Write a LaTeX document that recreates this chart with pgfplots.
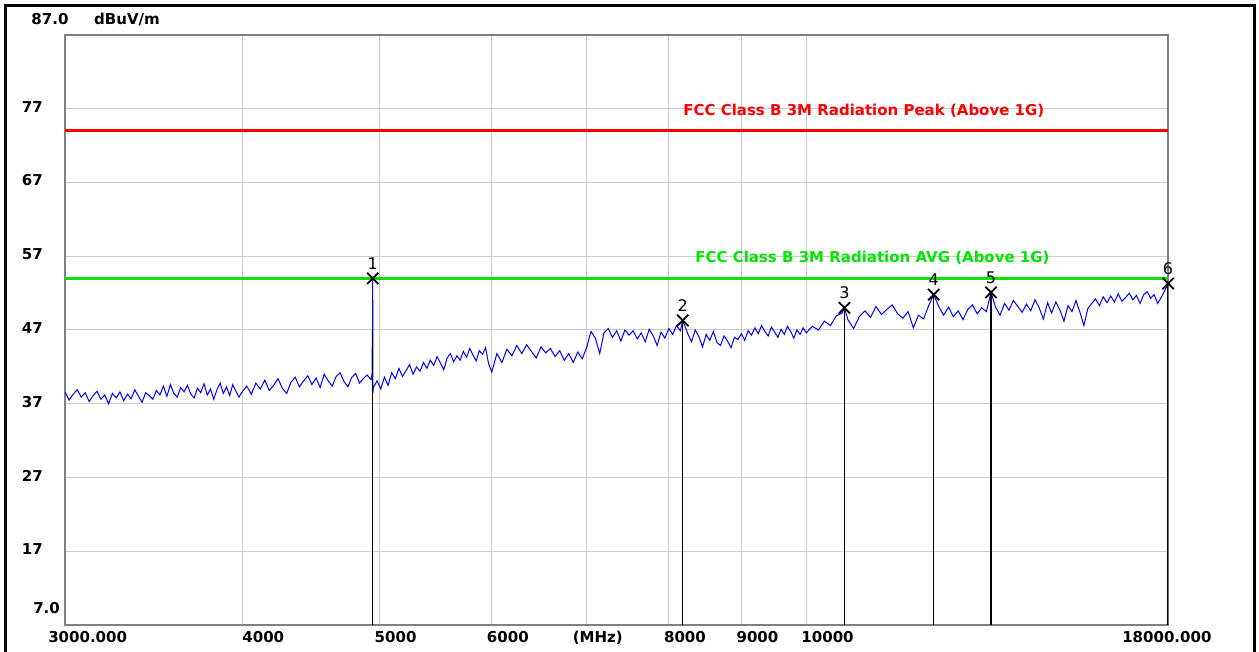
\documentclass[border=0pt]{standalone}
\usepackage{pgfplots}
\usepackage{pgfplotstable}
\pgfplotsset{compat=1.18}
\usepackage{fontspec}
\setmainfont{DejaVu Sans}
\definecolor{tracecol}{RGB}{0,0,255}
\definecolor{limred}{RGB}{255,0,0}
\definecolor{limgreen}{RGB}{0,230,0}
\definecolor{gridcol}{RGB}{204,204,204}
\definecolor{framecol}{RGB}{128,128,128}
\newcommand{\tickfont}{\fontsize{15}{17}\selectfont\bfseries}
\newcommand{\limfont}{\fontsize{15}{17}\selectfont\bfseries}

\pgfplotstableread{
x y
3000 38.6
3020 37.5
3040 38.3
3060 38.9
3080 37.9
3100 38.5
3120 37.3
3140 38.1
3160 38.7
3180 37.6
3200 38.2
3220 37.0
3240 38.4
3260 37.8
3280 38.6
3300 37.4
3320 38.3
3340 37.7
3360 38.9
3380 38.0
3400 37.2
3420 38.5
3440 38.1
3460 37.6
3480 38.8
3500 38.2
3520 39.4
3540 38.0
3560 39.6
3580 38.4
3600 37.9
3620 39.2
3640 38.6
3660 39.5
3680 38.3
3700 37.8
3720 39.1
3740 38.5
3760 39.7
3780 38.2
3800 39.0
3820 37.6
3840 38.9
3860 39.8
3880 38.4
3900 39.3
3920 38.1
3940 39.6
3960 38.7
3980 37.9
4000 38.6
4030 39.4
4060 38.3
4090 39.8
4120 39.0
4150 40.2
4180 38.8
4210 39.5
4240 40.4
4270 39.1
4300 38.4
4330 39.9
4360 40.6
4390 39.3
4420 40.1
4450 40.8
4480 39.6
4510 40.5
4540 39.2
4570 41.0
4600 40.1
4630 39.4
4660 40.7
4690 41.2
4720 40.0
4750 39.3
4780 40.6
4810 41.1
4840 39.8
4870 40.4
4900 40.9
4930 40.3
4940 41.0
4942 47.0
4943 38.6
4944 46.8
4945 54.0
4946 38.4
4950 39.2
4980 40.1
5010 39.0
5040 40.6
5070 39.5
5100 41.2
5130 40.4
5160 41.8
5190 40.7
5220 41.5
5250 42.3
5280 41.0
5310 42.0
5340 41.4
5370 42.6
5400 41.8
5430 42.9
5460 42.2
5490 43.4
5520 42.5
5550 41.6
5580 43.2
5610 43.8
5640 42.7
5670 43.5
5700 42.9
5730 44.1
5760 43.3
5790 44.5
5820 43.6
5850 42.8
5880 44.2
5910 43.7
5940 44.6
5970 42.4
6000 41.3
6050 43.8
6100 42.6
6150 44.4
6200 43.5
6250 44.9
6300 43.8
6350 45.0
6400 44.1
6450 43.2
6500 44.7
6550 43.9
6600 44.5
6650 43.4
6700 44.2
6750 42.9
6800 43.8
6850 42.6
6900 44.0
6950 43.1
7000 44.6
7050 46.8
7100 45.9
7150 43.8
7200 46.6
7250 47.2
7300 46.0
7350 46.9
7400 45.5
7450 47.0
7500 46.3
7550 46.9
7600 45.8
7650 46.6
7700 45.4
7750 47.1
7800 46.2
7850 44.9
7900 46.7
7950 45.9
8000 47.2
8050 46.4
8100 47.6
8150 46.9
8183 48.3
8200 47.8
8250 46.5
8300 45.4
8350 47.0
8400 46.1
8450 44.7
8500 46.4
8550 45.6
8600 46.8
8650 45.3
8700 44.9
8750 46.2
8800 45.5
8850 44.6
8900 46.0
8950 45.7
9000 46.5
9050 45.6
9100 46.9
9150 46.3
9200 47.3
9250 46.5
9300 47.6
9350 46.8
9400 46.2
9450 47.4
9500 46.7
9550 46.0
9600 47.1
9650 46.4
9700 47.5
9750 46.8
9800 45.9
9850 47.0
9900 46.4
9950 47.3
10000 46.6
10100 47.5
10200 47.0
10300 48.2
10400 47.6
10500 48.9
10600 49.3
10640 50.0
10700 48.4
10800 47.2
10900 48.8
11000 49.6
11100 48.7
11200 50.2
11300 49.1
11400 49.8
11500 50.4
11600 49.2
11700 48.6
11800 49.5
11900 47.3
12000 49.0
12100 48.5
12200 50.3
12300 51.8
12400 50.2
12500 49.0
12600 50.1
12700 48.8
12800 49.6
12900 48.4
13000 49.8
13100 50.4
13200 49.2
13300 50.0
13400 49.5
13500 52.1
13600 50.1
13700 49.0
13800 50.6
13900 49.7
14000 51.0
14100 50.2
14200 49.4
14300 50.5
14400 49.6
14500 51.1
14600 50.0
14700 48.5
14800 50.7
14900 49.3
15000 50.8
15100 49.7
15200 48.2
15300 50.3
15400 49.5
15500 51.0
15600 49.4
15700 47.6
15800 49.9
15900 50.6
16000 51.2
16100 50.3
16200 51.5
16300 50.7
16400 51.6
16500 50.8
16600 51.9
16700 50.9
16800 51.4
16900 52.0
17000 51.1
17100 51.7
17200 50.6
17300 51.8
17400 52.2
17500 51.3
17600 51.8
17700 50.6
17800 51.4
17900 52.3
18000 53.3
}\trace

\pgfplotstableread{
x y lab
4945 54.0 1
8183 48.3 2
10640 50.0 3
12300 51.8 4
13500 52.1 5
18000 53.3 6
}\markers

\pgfplotstableread{
x y
4945 47.0
8183 48.3
10640 50.0
12300 51.8
13500 52.1
18000 53.3
}\markerlines

\begin{document}
\begin{tikzpicture}[x=1pt,y=1pt]
\useasboundingbox (0,0) rectangle (1259,652);
\fill[white] (0,0) rectangle (1259,652);
\draw[black, line width=2.5pt] (5.5,-2) -- (5.5,646.5) -- (1254.5,646.5) -- (1254.5,-2);
\begin{axis}[
  at={(65pt,27pt)}, anchor=south west,
  scale only axis, width=1103pt, height=590pt,
  xmode=log, xmin=3000, xmax=18000,
  ymin=7, ymax=87,
  xtick={3000,4000,5000,6000,7000,8000,9000,10000,18000},
  xticklabels={\hspace*{-12pt}3000.000,\hspace*{5pt}4000,5000,6000,\hspace*{-9pt}(MHz),8000,9000,10000,\hspace*{-41pt}18000.000},
  xticklabel style={font=\tickfont, anchor=north west, inner sep=0pt, xshift=-5pt, yshift=-6pt},
  ytick={17,27,37,47,57,67,77},
  yticklabels={17,27,37,47,57,67,77},
  yticklabel style={font=\tickfont, anchor=east, inner sep=0pt, xshift=-22pt, yshift=2pt},
  extra y ticks={7},
  extra y tick labels={7.0},
  extra y tick style={yticklabel style={xshift=17pt, yshift=15pt}, grid=none},
  major tick length=0pt,
  grid=major,
  major grid style={gridcol, line width=1pt},
  axis line style={framecol, line width=2pt},
  clip=true,
]
\addplot[tracecol, line width=1pt] table[x=x,y=y] {\trace};
\addplot[black, line width=1.3pt, ycomb, mark=none] table[x=x,y=y] {\markerlines};
\addplot[only marks, mark=x, mark size=8pt, black, line width=1.8pt,
  nodes near coords, point meta=explicit symbolic,
  every node near coord/.style={anchor=south, inner sep=0pt, yshift=8pt, font=\fontsize{16}{18}\selectfont, black}]
  table[x=x,y=y,meta=lab] {\markers};
\addplot[limred, line width=3pt] coordinates {(3000,74) (18000,74)};
\addplot[limgreen, line width=3pt] coordinates {(3000,54) (18000,54)};
\node[limred, font=\limfont, anchor=west, inner sep=0pt] at (axis cs:8187,76.7) {FCC Class B 3M Radiation Peak (Above 1G)};
\node[limgreen, font=\limfont, anchor=west, inner sep=0pt] at (axis cs:8348,56.8) {FCC Class B 3M Radiation AVG (Above 1G)};
\end{axis}
\node[font=\tickfont, anchor=center] at (50,632.5) {87.0};
\node[font=\tickfont, anchor=center] at (127,632.5) {dBuV/m};
\end{tikzpicture}
\end{document}
